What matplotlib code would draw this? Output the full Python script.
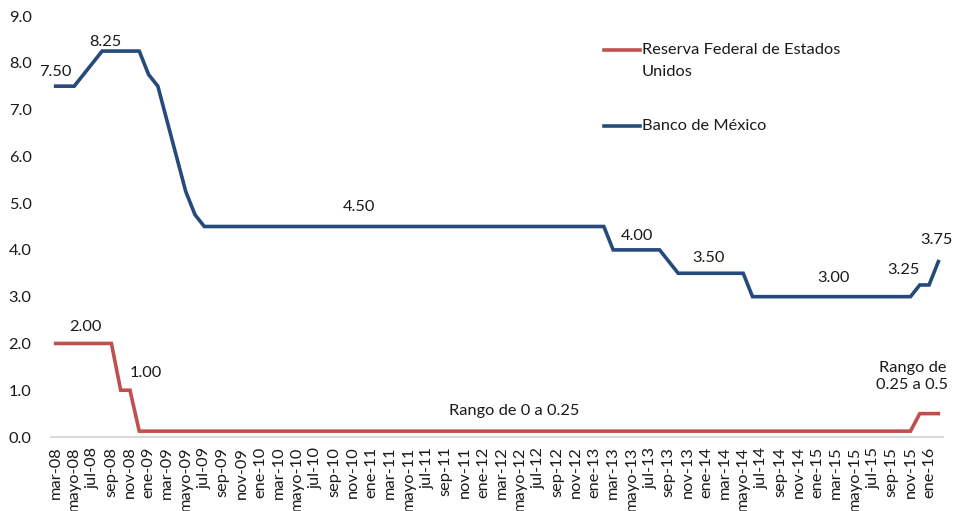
import matplotlib
matplotlib.use("Agg")
import matplotlib.pyplot as plt
from matplotlib.lines import Line2D

plt.rcParams['font.family'] = ['Lato', 'DejaVu Sans']

# Monthly series, mar-08 .. feb-16
months_es = ['ene', 'feb', 'mar', 'abr', 'mayo', 'jun', 'jul', 'ago', 'sep', 'oct', 'nov', 'dic']
categories = []
for yr in range(8, 17):
    for m in range(12):
        if yr == 8 and m < 2:
            continue
        if yr == 16 and m > 1:
            continue
        categories.append(f"{months_es[m]}-{yr:02d}")

fed = ([2.0] * 7 + [1.0] * 2 + [0.125] * 84 + [0.5] * 3)
banxico = ([7.5] * 3 + [7.75, 8.0] + [8.25] * 5 + [7.75, 7.5, 6.75, 6.0, 5.25, 4.75]
           + [4.5] * 44 + [4.0] * 6 + [3.75] + [3.5] * 8 + [3.0] * 18 + [3.25] * 2 + [3.75])

yticks = [0, 1, 2, 3, 4, 5, 6, 7, 8, 9]

# annotations: (x index, y, text)
ann_banxico = [(0, 7.80, "7.50"), (5.3, 8.44, "8.25"), (32.7, 4.92, "4.50"),
               (62.6, 4.30, "4.00"), (70.3, 3.83, "3.50"), (83.7, 3.40, "3.00"),
               (91.2, 3.57, "3.25"), (94.8, 4.21, "3.75")]
ann_fed = [(3.2, 2.35, "2.00"), (9.7, 1.37, "1.00"),
           (49.3, 0.56, "Rango de 0 a 0.25"), (92.2, 1.30, "Rango de\n0.25 a 0.5")]

red = '#C0504D'
blue = '#264A7B'
txt = '#1a1a1a'
fs = 11.8

fig = plt.figure(figsize=(9.56, 5.11), dpi=100)
ax = fig.add_axes([51 / 956, 1 - 437 / 511, (943 - 51) / 956, (437 - 16) / 511])

x = list(range(len(categories)))
ax.plot(x, fed, color=red, lw=2.6, solid_joinstyle='miter')
ax.plot(x, banxico, color=blue, lw=2.6, solid_joinstyle='miter')

ax.set_xlim(-0.5, len(categories) - 0.5)
ax.set_ylim(0, 9)
ax.set_yticks(yticks)
ax.set_yticklabels([f"{v:.1f}" for v in yticks])
ax.set_xticks(x[::2])
ax.set_xticklabels(categories[::2], rotation=90)
ax.tick_params(axis='both', length=0, labelsize=fs, colors=txt)
ax.tick_params(axis='y', pad=14)
ax.tick_params(axis='x', pad=7)

for s in ['top', 'right', 'left']:
    ax.spines[s].set_visible(False)
ax.spines['bottom'].set_color('#D9D9D9')
ax.spines['bottom'].set_linewidth(1.5)

for xi, yi, t in ann_banxico + ann_fed:
    ax.text(xi, yi, t, ha='center', va='center', fontsize=fs, color=txt,
            multialignment='center', linespacing=1.25)

# manual legend
def px(xp, yp):
    return ((xp - 51) / (943 - 51), (437 - yp) / (437 - 16))

legend_items = [(50, red, ["Reserva Federal de Estados", "Unidos"]),
                (126, blue, ["Banco de México"])]
for yp, col, lines in legend_items:
    x0, y0 = px(604, yp)
    x1, _ = px(640, yp)
    ax.add_line(Line2D([x0, x1], [y0, y0], transform=ax.transAxes, color=col, lw=2.6))
    for k, line in enumerate(lines):
        tx, ty = px(642, yp + 22 * k)
        ax.text(tx, ty, line, transform=ax.transAxes, ha='left', va='center',
                fontsize=fs, color=txt)

fig.savefig('out.png', dpi=100)
